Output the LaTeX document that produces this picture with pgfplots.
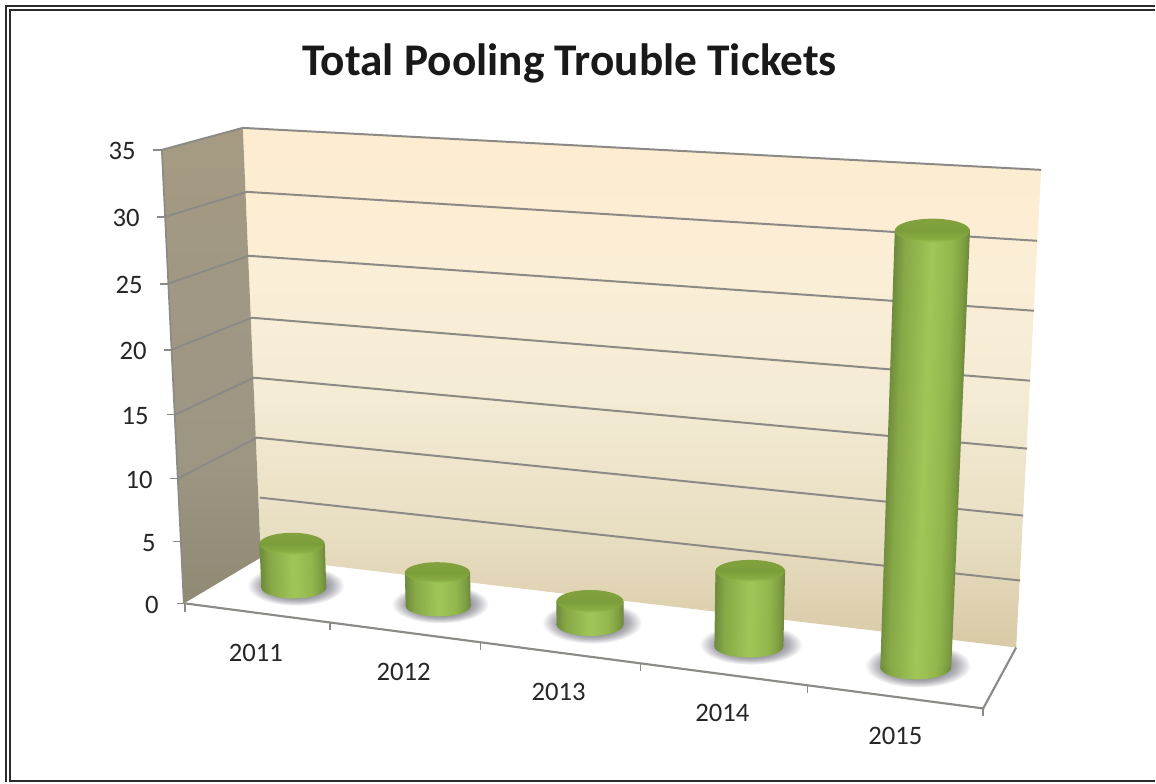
\documentclass[border=0pt]{standalone}
\usepackage{pgfplots}
\pgfplotsset{compat=1.18}
\usepackage{fontspec}
\setmainfont{Carlito}

\definecolor{axisgray}{HTML}{8C8A86}
\definecolor{framedark}{HTML}{2B2B2B}

% Shadings: the inner 25bp--75bp band maps onto the bounding box of the path
\pgfdeclareverticalshading{backwall}{100bp}{
  color(0bp)=(rgb,255:red,216;green,202;blue,166);
  color(25bp)=(rgb,255:red,216;green,202;blue,166);
  color(36bp)=(rgb,255:red,232;green,222;blue,194);
  color(50bp)=(rgb,255:red,245;green,236;blue,214);
  color(62bp)=(rgb,255:red,251;green,238;blue,214);
  color(75bp)=(rgb,255:red,253;green,236;blue,207);
  color(100bp)=(rgb,255:red,253;green,236;blue,207)}
\pgfdeclareverticalshading{sidewall}{100bp}{
  color(0bp)=(rgb,255:red,144;green,137;blue,116);
  color(25bp)=(rgb,255:red,144;green,137;blue,116);
  color(40bp)=(rgb,255:red,156;green,150;blue,130);
  color(58bp)=(rgb,255:red,160;green,152;blue,132);
  color(75bp)=(rgb,255:red,166;green,154;blue,130);
  color(100bp)=(rgb,255:red,166;green,154;blue,130)}
\pgfdeclarehorizontalshading{cylbody}{100bp}{
  color(0bp)=(rgb,255:red,110;green,138;blue,60);
  color(25bp)=(rgb,255:red,110;green,138;blue,60);
  color(32bp)=(rgb,255:red,134;green,168;blue,70);
  color(50bp)=(rgb,255:red,160;green,198;blue,88);
  color(64bp)=(rgb,255:red,146;green,182;blue,76);
  color(71bp)=(rgb,255:red,126;green,158;blue,66);
  color(75bp)=(rgb,255:red,108;green,134;blue,60);
  color(100bp)=(rgb,255:red,108;green,134;blue,60)}
\pgfdeclareverticalshading{cylcap}{100bp}{
  color(0bp)=(rgb,255:red,158;green,198;blue,86);
  color(25bp)=(rgb,255:red,158;green,198;blue,86);
  color(33bp)=(rgb,255:red,136;green,172;blue,66);
  color(50bp)=(rgb,255:red,124;green,158;blue,58);
  color(75bp)=(rgb,255:red,130;green,162;blue,64);
  color(100bp)=(rgb,255:red,130;green,162;blue,64)}
\pgfdeclareradialshading{cylshadow}{\pgfpoint{0bp}{0bp}}{
  color(0bp)=(rgb,255:red,132;green,132;blue,140);
  color(13bp)=(rgb,255:red,134;green,134;blue,142);
  color(19bp)=(rgb,255:red,182;green,182;blue,188);
  color(25bp)=(rgb,255:red,255;green,255;blue,255);
  color(50bp)=(rgb,255:red,255;green,255;blue,255)}

% One cylinder: centre x and base y of its foot (pixels), value, foot radii.
% The side is sheared about its foot so that the shading follows the lean.
\newcommand{\cylinder}[5]{%
  \pgfmathsetmacro{\unitpx}{12.5+(#1-294)*0.00222}%
  \pgfmathsetmacro{\barh}{#3*\unitpx}%
  \pgfmathsetmacro{\topy}{#2-\barh}%
  \pgfmathsetmacro{\lean}{-0.042+0.000124*(#1-261)}%
  \pgfmathsetmacro{\topx}{#1+\lean*\barh}%
  \pgfmathsetmacro{\toprx}{#4*(1+\barh*0.00013)}%
  \pgfmathsetmacro{\xa}{#1-#4}%
  \pgfmathsetmacro{\xb}{#1+#4}%
  \pgfmathsetmacro{\xc}{#1-\toprx}%
  \pgfmathsetmacro{\xd}{#1+\toprx}%
  \pgfmathsetmacro{\shear}{\lean*#2*0.75}%
  \pgfmathsetmacro{\frx}{#4*0.75}%
  \pgfmathsetmacro{\fry}{#5*0.75}%
  \pgfmathsetmacro{\trx}{\toprx*0.75}%
  \pgfmathsetmacro{\shx}{#4*1.5*0.75}%
  \pgfmathsetmacro{\shy}{#5*1.85*0.75}%
  \edef\cylparts{%
    \noexpand\begin{scope}%
      \noexpand\clip (axis cs:184,604) -- (axis cs:261,558) -- (axis cs:1017,648) -- (axis cs:984,709) -- cycle;%
      \noexpand\path[shade,shading=cylshadow] (axis cs:#1+2,#2-2) ellipse [x radius=\shx pt,y radius=\shy pt];%
    \noexpand\end{scope}%
    \noexpand\path[shade,shading=cylbody] (axis cs:#1,#2) ellipse [x radius=\frx pt,y radius=\fry pt];%
    \noexpand\addplot[draw=none,shade,shading=cylbody,transform canvas={xshift=\shear pt,xslant=\lean}]
      coordinates {(\xa,#2) (\xc,\topy) (\xd,\topy) (\xb,#2)} -- cycle;%
    \noexpand\path[shade,shading=cylcap] (axis cs:\topx,\topy) ellipse [x radius=\trx pt,y radius=\fry pt];%
  }\cylparts
}

\begin{document}
\begin{tikzpicture}
\begin{axis}[
  scale only axis, width=867pt, height=587.25pt,
  xmin=0, xmax=1156, ymin=0, ymax=783, y dir=reverse,
  hide axis, clip=false,
  every axis plot/.append style={no markers},
]
% keep the whole canvas inside the picture's bounding box
\path (axis cs:0,0) (axis cs:1156,783);

% page border: two nested rules, open towards the right
\addplot[framedark, line width=1.4pt] coordinates {(1156,6.2) (6.2,6.2) (6.2,783)};
\addplot[framedark, line width=1.4pt] coordinates {(1156,10.2) (10.2,10.2) (10.2,782) (1156,782)};

% walls
\addplot[draw=none, shade, shading=backwall] coordinates {(243,128) (1042,170) (1017,648) (261,558)} -- cycle;
\addplot[draw=none, shade, shading=sidewall] coordinates {(162,150) (243,128) (261,558) (184,604)} -- cycle;

% gridlines on the side wall and the back wall
\addplot[axisgray, line width=1.5pt] coordinates {(162,150) (243,128) (1042,170)};
\addplot[axisgray, line width=1.5pt] coordinates {(165,217) (247,192) (1038,241)};
\addplot[axisgray, line width=1.5pt] coordinates {(168,284) (249,256) (1035,311)};
\addplot[axisgray, line width=1.5pt] coordinates {(172,350) (252,318) (1031,381)};
\addplot[axisgray, line width=1.5pt] coordinates {(175,415) (254,378) (1028,449)};
\addplot[axisgray, line width=1.5pt] coordinates {(178,479) (257,438) (1024,516)};
\addplot[axisgray, line width=1.5pt] coordinates {(260,498) (1021,581)};

% side wall edge and floor outline
\addplot[axisgray, line width=1.3pt] coordinates {(162,150) (184,604)};
\addplot[axisgray, line width=1.6pt] coordinates {(186,604) (984,709) (1017,648)};

% tick marks along the value axis
\addplot[axisgray, line width=1.2pt] coordinates {(153,150) (162,150)};
\addplot[axisgray, line width=1.2pt] coordinates {(157,217) (165,217)};
\addplot[axisgray, line width=1.2pt] coordinates {(160,284) (168,284)};
\addplot[axisgray, line width=1.2pt] coordinates {(164,350) (172,350)};
\addplot[axisgray, line width=1.2pt] coordinates {(167,415) (175,415)};
\addplot[axisgray, line width=1.2pt] coordinates {(170,479) (178,479)};
\addplot[axisgray, line width=1.2pt] coordinates {(173,542) (181,542)};
\addplot[axisgray, line width=1.2pt] coordinates {(177,604) (186,604)};

% tick marks along the category axis
\addplot[axisgray, line width=1.2pt] coordinates {(185,604) (185,612)};
\addplot[axisgray, line width=1.2pt] coordinates {(330,623) (330,631)};
\addplot[axisgray, line width=1.2pt] coordinates {(481,643) (481,651)};
\addplot[axisgray, line width=1.2pt] coordinates {(641,665) (641,672)};
\addplot[axisgray, line width=1.2pt] coordinates {(808,686) (808,694)};
\addplot[axisgray, line width=1.2pt] coordinates {(984,709) (984,717)};

% tickets per year
\cylinder{294}{588}{3.5}{32.5}{11}
\cylinder{438.5}{606.5}{2.6}{32.5}{10.5}
\cylinder{590.5}{625}{1.75}{33.5}{11.5}
\cylinder{749.5}{647}{5.6}{34.5}{11}
\cylinder{916.5}{668}{31.5}{35.5}{12}

% value labels
\tikzset{vlabel/.style={anchor=east, inner sep=0pt, font=\fontsize{20pt}{20pt}\selectfont, text=black!85},
         clabel/.style={font=\fontsize{20pt}{20pt}\selectfont, text=black!85}}
\node[vlabel] at (axis cs:136,151) {35};
\node[vlabel] at (axis cs:140,218) {30};
\node[vlabel] at (axis cs:143,285) {25};
\node[vlabel] at (axis cs:147,351) {20};
\node[vlabel] at (axis cs:149,416) {15};
\node[vlabel] at (axis cs:153,480) {10};
\node[vlabel] at (axis cs:156,543) {5};
\node[vlabel] at (axis cs:159,605) {0};

% category labels
\node[clabel] at (axis cs:256,653) {2011};
\node[clabel] at (axis cs:404,672) {2012};
\node[clabel] at (axis cs:559,693) {2013};
\node[clabel] at (axis cs:723,714) {2014};
\node[clabel] at (axis cs:896,737) {2015};

% title
\node[font=\bfseries\fontsize{34pt}{34pt}\selectfont, text=black!90] at (axis cs:570,64) {Total Pooling Trouble Tickets};
\end{axis}
\end{tikzpicture}
\end{document}
